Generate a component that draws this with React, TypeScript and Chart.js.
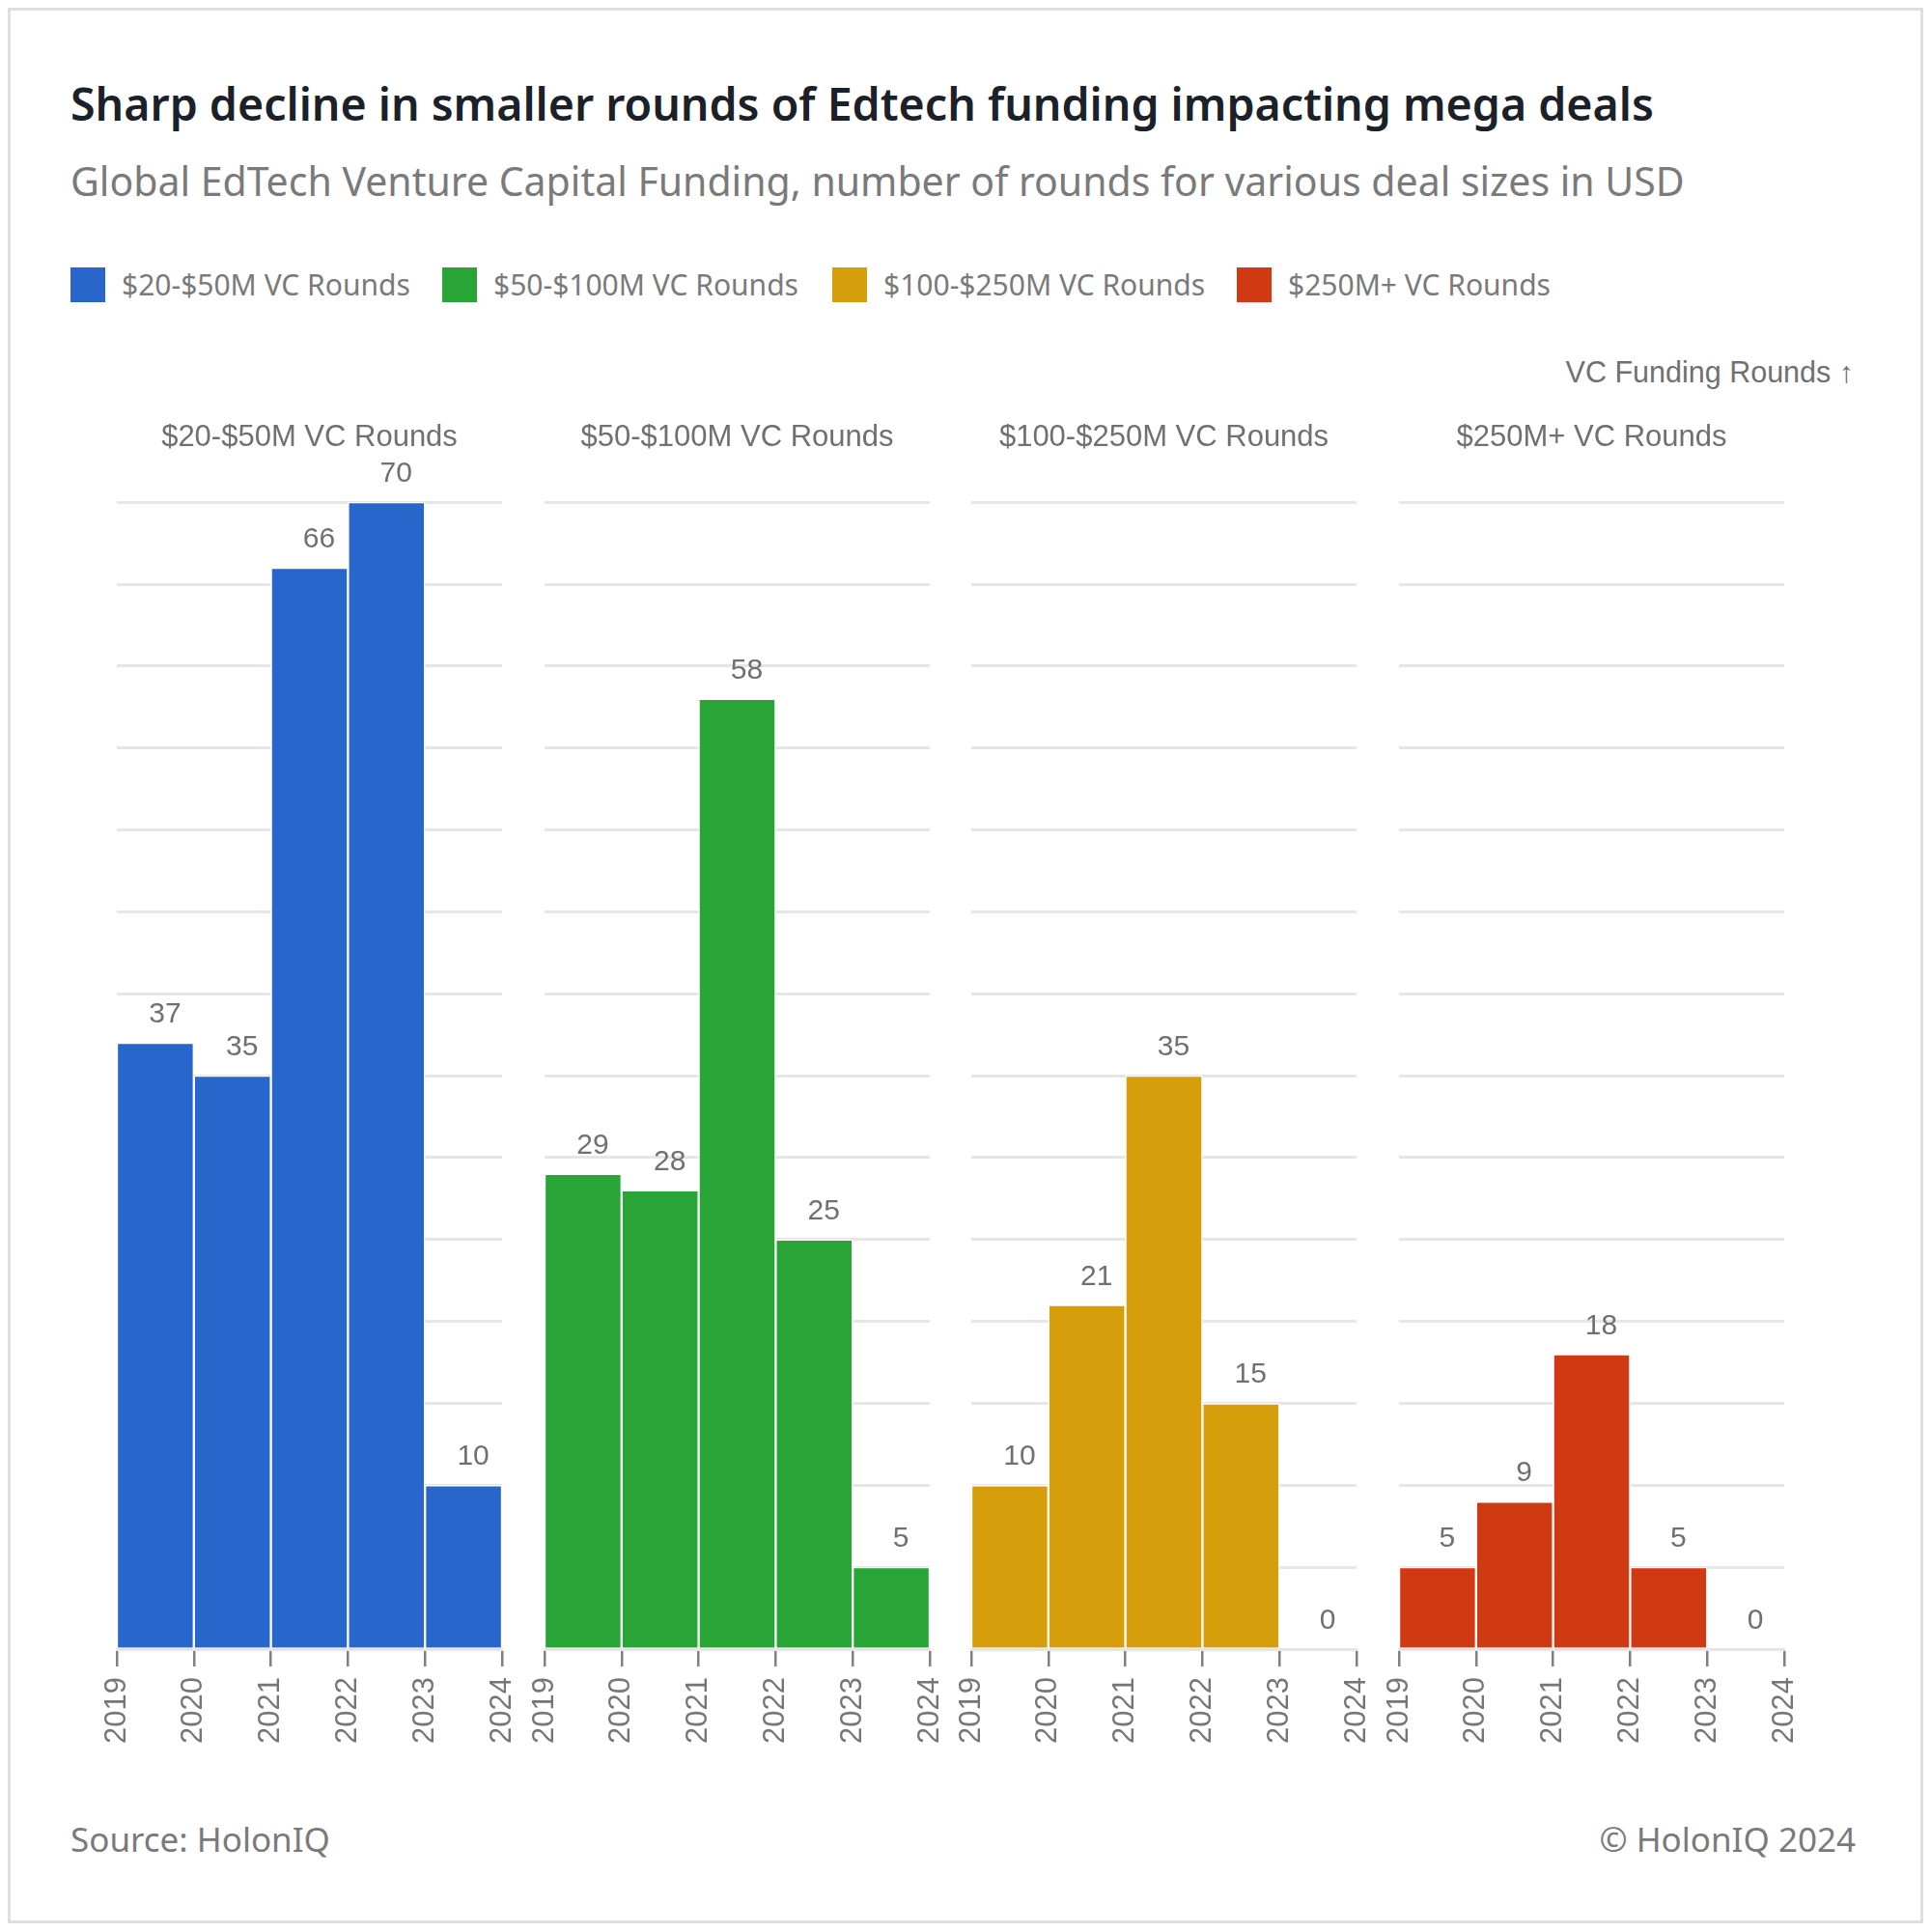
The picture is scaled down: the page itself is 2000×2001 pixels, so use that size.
import { useEffect, useRef } from 'react'
import { Chart, registerables } from 'chart.js'

Chart.register(...registerables)

// data
const YEARS = ['2019', '2020', '2021', '2022', '2023']
const YEAR_TICKS = ['2019', '2020', '2021', '2022', '2023', '2024']
const DEAL_SIZES = ['$20-$50M VC Rounds', '$50-$100M VC Rounds', '$100-$250M VC Rounds', '$250M+ VC Rounds']
const ROUNDS_20_50 = [37, 35, 66, 70, 10]
const ROUNDS_50_100 = [29, 28, 58, 25, 5]
const ROUNDS_100_250 = [10, 21, 35, 15, 0]
const ROUNDS_250_PLUS = [5, 9, 18, 5, 0]
const SERIES = [ROUNDS_20_50, ROUNDS_50_100, ROUNDS_100_250, ROUNDS_250_PLUS]
const COLORS = ['#2966cc', '#29a537', '#d79e0b', '#d03a13']
const Y_MAX = 70
const Y_STEP = 5

const UI_FONT = '"Noto Sans", "Open Sans", sans-serif'
const ARIAL = '"Liberation Sans", Arial, sans-serif'
const GREY = '#767676'

// page coords are relative to the 8px body margin
const CANVAS_W = 443
const CANVAS_H = 1383
const CANVAS_TOP = 427
const PANEL_LEFT = 91
const PANEL_STEP = 442.67

const valueLabels = {
  id: 'valueLabels',
  afterDatasetsDraw(chart: Chart) {
    const { ctx } = chart
    const meta = chart.getDatasetMeta(0)
    const values = chart.data.datasets[0].data as number[]
    ctx.save()
    ctx.font = `30px ${ARIAL}`
    ctx.fillStyle = '#707070'
    ctx.textAlign = 'center'
    ctx.textBaseline = 'alphabetic'
    meta.data.forEach((bar, i) => {
      ctx.fillText(String(values[i]), bar.x + 10, bar.y - 21)
    })
    ctx.restore()
  },
}

function Panel({ title, values, color, left }: { title: string; values: number[]; color: string; left: number }) {
  const canvasRef = useRef<HTMLCanvasElement>(null)

  useEffect(() => {
    if (!canvasRef.current) return
    const chart = new Chart(canvasRef.current, {
      type: 'bar',
      data: {
        labels: YEARS,
        datasets: [
          {
            data: values,
            backgroundColor: color,
            borderColor: '#ffffff',
            borderWidth: 1.5,
            categoryPercentage: 1,
            barPercentage: 1,
            xAxisID: 'x',
          },
        ],
      },
      options: {
        animation: false,
        responsive: false,
        devicePixelRatio: 1,
        layout: { padding: { top: 0, left: 22, right: 22, bottom: 0 } },
        scales: {
          x: { type: 'category', display: false, offset: true },
          years: {
            type: 'linear',
            position: 'bottom',
            offset: false,
            min: Number(YEAR_TICKS[0]),
            max: Number(YEAR_TICKS[YEAR_TICKS.length - 1]),
            afterBuildTicks: (scale: any) => {
              scale.ticks = YEAR_TICKS.map((t) => ({ value: Number(t) }))
            },
            afterFit: (scale: any) => {
              scale.height = 110
              scale.paddingLeft = 0
              scale.paddingRight = 0
            },
            ticks: {
              autoSkip: false,
              maxRotation: 90,
              minRotation: 90,
              padding: 11,
              color: GREY,
              font: { family: ARIAL, size: 31 },
              callback: (v: any) => String(v),
            },
            grid: {
              offset: false,
              drawOnChartArea: false,
              drawTicks: true,
              tickLength: 18,
              color: '#808080',
              lineWidth: 2.5,
            },
            border: { display: true, color: '#e6e6e6', width: 3 },
          },
          y: {
            min: 0,
            max: Y_MAX,
            ticks: { display: false, stepSize: Y_STEP },
            grid: { color: '#e6e6e6', lineWidth: 3, drawTicks: false },
            border: { display: false },
          },
        },
        plugins: {
          legend: { display: false },
          tooltip: { enabled: false },
          title: {
            display: true,
            text: title,
            color: '#707070',
            font: { family: ARIAL, size: 31, weight: 'normal' },
            padding: { top: 0, bottom: 48 },
          },
        },
      },
      plugins: [valueLabels],
    })
    return () => chart.destroy()
  }, [title, values, color])

  return (
    <canvas
      ref={canvasRef}
      width={CANVAS_W}
      height={CANVAS_H}
      style={{ position: 'absolute', left, top: CANVAS_TOP, width: CANVAS_W, height: CANVAS_H }}
    />
  )
}

const LEGEND_X = [65, 450, 854, 1273]

export default function App() {
  const text = (extra: React.CSSProperties): React.CSSProperties => ({
    position: 'absolute',
    whiteSpace: 'nowrap',
    lineHeight: 1,
    transform: 'translateY(-50%)',
    ...extra,
  })

  return (
    <div style={{ position: 'relative', width: 1984, height: 1984, background: '#fff' }}>
      <div
        style={{
          position: 'absolute',
          inset: 0,
          border: '3px solid #dedede',
          boxSizing: 'border-box',
        }}
      />
      <div style={text({ left: 65, top: 99, fontFamily: UI_FONT, fontWeight: 600, fontSize: 46.5, color: '#1b2129' })}>
        Sharp decline in smaller rounds of Edtech funding impacting mega deals
      </div>
      <div style={text({ left: 65, top: 179, fontFamily: UI_FONT, fontSize: 41, color: '#7a7a7a' })}>
        Global EdTech Venture Capital Funding, number of rounds for various deal sizes in USD
      </div>
      {DEAL_SIZES.map((name, i) => (
        <div key={name} style={text({ left: LEGEND_X[i], top: 287, display: 'flex', alignItems: 'center' })}>
          <span style={{ display: 'inline-block', width: 36, height: 36, background: COLORS[i] }} />
          <span style={{ marginLeft: 17, fontFamily: UI_FONT, fontSize: 30, color: '#7a7a7a' }}>{name}</span>
        </div>
      ))}
      <div style={text({ right: 1984 - 1912, top: 377, fontFamily: ARIAL, fontSize: 30.5, color: '#707070' })}>
        VC Funding Rounds ↑
      </div>
      {DEAL_SIZES.map((name, i) => (
        <Panel key={name} title={name} values={SERIES[i]} color={COLORS[i]} left={PANEL_LEFT + i * PANEL_STEP} />
      ))}
      <div style={text({ left: 65, top: 1896, fontFamily: UI_FONT, fontSize: 35, color: '#7a7a7a' })}>Source: HolonIQ</div>
      <div style={text({ right: 1984 - 1914, top: 1896, fontFamily: UI_FONT, fontSize: 35, color: '#7a7a7a' })}>
        © HolonIQ 2024
      </div>
    </div>
  )
}
